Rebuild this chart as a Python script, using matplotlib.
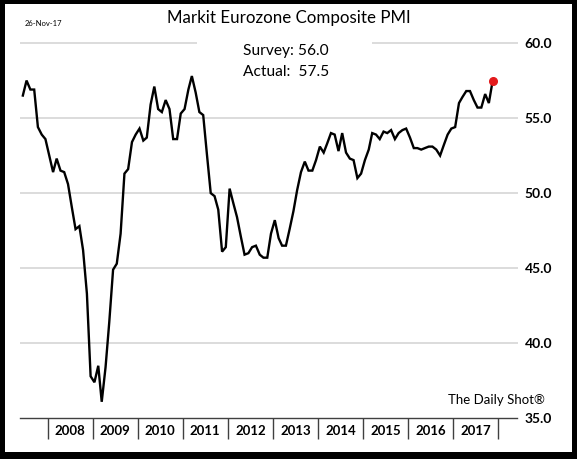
import numpy as np
import pandas as pd
import matplotlib
matplotlib.use("Agg")
import matplotlib.pyplot as plt
from matplotlib.patches import Rectangle

plt.rcParams['font.family'] = ['Lato', 'DejaVu Sans']

# Markit Eurozone Composite PMI, monthly, Jun 2007 - Nov 2017
pmi = [56.5, 57.5, 56.9, 56.9, 54.4, 53.9, 53.6,
       52.5, 51.4, 52.3, 51.5, 51.4, 50.6, 49.1, 47.6, 47.8, 46.2, 43.3, 37.8,
       37.4, 38.5, 36.1, 38.4, 41.4, 44.9, 45.3, 47.3, 51.3, 51.6, 53.4, 53.9,
       54.3, 53.5, 53.7, 55.9, 57.1, 55.6, 55.4, 56.2, 55.6, 53.6, 53.6, 55.3,
       55.6, 56.9, 57.8, 56.7, 55.4, 55.2, 52.6, 50.0, 49.8, 48.9, 46.1, 46.4,
       50.3, 49.3, 48.4, 47.1, 45.9, 46.0, 46.4, 46.5, 45.9, 45.7, 45.7, 47.3,
       48.2, 47.0, 46.5, 46.5, 47.6, 48.8, 50.2, 51.4, 52.1, 51.5, 51.5, 52.2,
       53.1, 52.7, 53.3, 54.0, 53.9, 52.8, 54.0, 52.7, 52.3, 52.2, 51.0, 51.3,
       52.2, 52.9, 54.0, 53.9, 53.6, 54.1, 54.0, 54.2, 53.6, 54.0, 54.2, 54.3,
       53.7, 53.0, 53.0, 52.9, 53.0, 53.1, 53.1, 52.9, 52.5, 53.2, 53.9, 54.3,
       54.4, 56.0, 56.4, 56.8, 56.8, 56.2, 55.7, 55.7, 56.6, 56.0, 57.5]
dates = pd.date_range("2007-06-01", periods=len(pmi), freq="MS") + pd.Timedelta(days=14)

years = list(range(2008, 2018))
yticks = [35, 40, 45, 50, 55, 60]
survey = 56.0
actual = 57.5

W, H = 577, 459
fig = plt.figure(figsize=(W / 100, H / 100), dpi=100)
fig.patch.set_facecolor("white")

# plot area: x 20..517.5 px, y 28..418.3 px
ax = fig.add_axes([20 / W, 1 - 418.3 / H, 497.5 / W, (418.3 - 28) / H])
ax.set_ylim(35, 61)
ax.set_xlim(pd.Timestamp("2007-05-23"), pd.Timestamp("2018-06-04"))

for v in yticks[1:]:
    ax.axhline(v, color="#d9d9d9", lw=1.3, zorder=0.5)

# white box behind the survey / actual text (hides part of the 60 gridline)
ax.add_patch(Rectangle((197 / W, 1 - 86 / H), 175 / W, 52 / H, transform=fig.transFigure,
                       facecolor="white", edgecolor="none", zorder=1, clip_on=False))

ax.plot(dates, pmi, color="black", lw=1.7, zorder=3, solid_joinstyle="miter")
ax.plot(dates[-1], pmi[-1], "o", color="#e31a1c", ms=5.5, zorder=4)

for s in ["top", "left", "right"]:
    ax.spines[s].set_visible(False)
ax.spines["bottom"].set_color("#404040")
ax.spines["bottom"].set_linewidth(1)

ax.yaxis.tick_right()
ax.set_yticks(yticks)
ax.set_yticklabels([f"{v:.1f}" for v in yticks], fontweight="bold", fontsize=10)
ax.tick_params(axis="y", length=0, pad=5)

ax.set_xticks([pd.Timestamp(f"{y}-01-01") for y in years + [2018]])
ax.set_xticklabels([])
ax.set_xticks([pd.Timestamp(f"{y}-07-01") for y in years], minor=True)
ax.set_xticklabels([str(y) for y in years], minor=True, fontweight="bold", fontsize=9.5)
ax.tick_params(axis="x", which="major", length=15, width=1, color="#404040", direction="out")
ax.tick_params(axis="x", which="minor", length=0, pad=5)

fig.text(0.501, 1 - 18 / H, "Markit Eurozone Composite PMI", ha="center", va="center", fontsize=12.2)
fig.text(25 / W, 1 - 23 / H, "26-Nov-17", ha="left", va="center", fontsize=5.5)
fig.text(243 / W, 1 - 51 / H, f"Survey: {survey:.1f}", ha="left", va="center", fontsize=11.2)
fig.text(243 / W, 1 - 72 / H, f"Actual:  {actual:.1f}", ha="left", va="center", fontsize=11.2)
fig.text(448 / W, 1 - 400 / H, "The Daily Shot\u00ae", ha="left", va="center", fontsize=9.5)

# black picture frame
for (x0, y0, w, h) in [(0, 0, 1, 7 / H), (0, 1 - 4 / H, 1, 4 / H),
                       (0, 0, 5 / W, 1), (1 - 5 / W, 0, 5 / W, 1)]:
    fig.add_artist(Rectangle((x0, y0), w, h, transform=fig.transFigure,
                             facecolor="black", edgecolor="none", zorder=10))

fig.savefig("out.png", dpi=100)
